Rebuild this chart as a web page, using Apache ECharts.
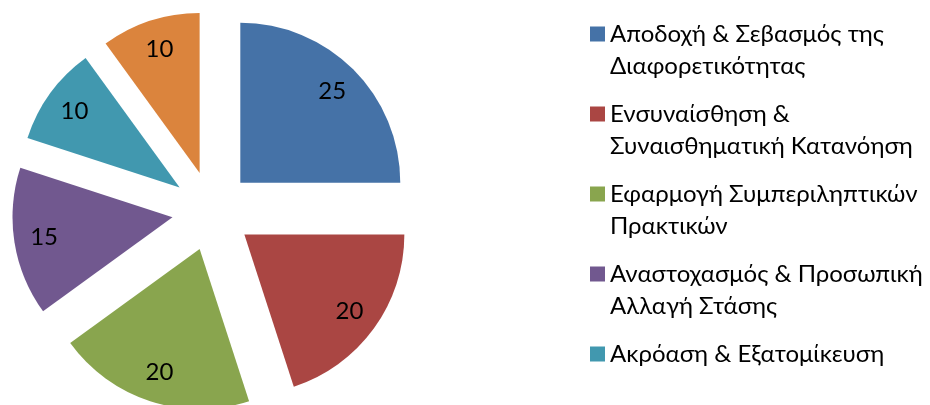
<!DOCTYPE html>
<html>
<head>
<meta charset="utf-8">
<script src="https://cdn.jsdelivr.net/npm/echarts@6/dist/echarts.min.js"></script>
<style>
  html, body { margin: 0; padding: 0; background: #fff; }
  #chart { width: 930px; height: 405px; }
</style>
</head>
<body>
<div id="chart"></div>
<script>
// κατηγορίες (η 6η δεν φαίνεται στο υπόμνημα)
const categories = [
  "Αποδοχή & Σεβασμός της Διαφορετικότητας",
  "Ενσυναίσθηση & Συναισθηματική Κατανόηση",
  "Εφαρμογή Συμπεριληπτικών Πρακτικών",
  "Αναστοχασμός & Προσωπική Αλλαγή Στάσης",
  "Ακρόαση & Εξατομίκευση",
  "Άλλο"
];
const legendText = [
  ["Αποδοχή & Σεβασμός της", "Διαφορετικότητας"],
  ["Ενσυναίσθηση &", "Συναισθηματική Κατανόηση"],
  ["Εφαρμογή Συμπεριληπτικών", "Πρακτικών"],
  ["Αναστοχασμός & Προσωπική", "Αλλαγή Στάσης"],
  ["Ακρόαση & Εξατομίκευση"]
];
const values = [25, 20, 20, 15, 10, 10];
const colors = ["#4572A7", "#AA4643", "#89A54E", "#71588F", "#4198AF", "#DB843D"];

const font = "Lato, 'Open Sans', 'Noto Sans', sans-serif";
const chart = echarts.init(document.getElementById("chart"));

const pieData = categories.map((name, i) => ({
  name: name,
  value: values[i],
  selected: true,
  itemStyle: { color: colors[i] }
}));
const labelData = categories.map((name, i) => ({
  name: name,
  value: values[i],
  selected: true
}));

// keep the first text line level with the legend square:
// an empty line above it, and one below when there is no second line
function legendLabel(name) {
  const lines = legendText[categories.indexOf(name)];
  return lines.length > 1 ? "\n" + lines.join("\n") : "\n" + lines[0] + "\n";
}

const option = {
  animation: false,
  legend: {
    orient: "vertical",
    left: 590,
    top: -14,
    padding: 0,
    itemGap: -16,
    itemWidth: 15,
    itemHeight: 15,
    icon: "rect",
    selectedMode: false,
    data: categories.slice(0, 5),
    formatter: legendLabel,
    textStyle: {
      fontFamily: font,
      fontSize: 24,
      lineHeight: 32,
      color: "#000"
    }
  },
  series: [
    {
      type: "pie",
      center: [212, 211],
      radius: [0, 160],
      startAngle: 90,
      clockwise: true,
      selectedMode: "multiple",
      selectedOffset: 40,
      silent: true,
      label: { show: false },
      labelLine: { show: false },
      emphasis: { disabled: true },
      data: pieData
    },
    {
      // ring used only to place the value labels
      type: "pie",
      center: [212, 211],
      radius: [94, 160],
      startAngle: 90,
      clockwise: true,
      selectedMode: "multiple",
      selectedOffset: 40,
      silent: true,
      itemStyle: { color: "rgba(0,0,0,0)" },
      emphasis: { disabled: true },
      label: {
        show: true,
        position: "inside",
        formatter: "{c}",
        fontFamily: font,
        fontSize: 24,
        color: "#000"
      },
      labelLine: { show: false },
      data: labelData
    }
  ]
};

chart.setOption(option);
</script>
</body>
</html>
